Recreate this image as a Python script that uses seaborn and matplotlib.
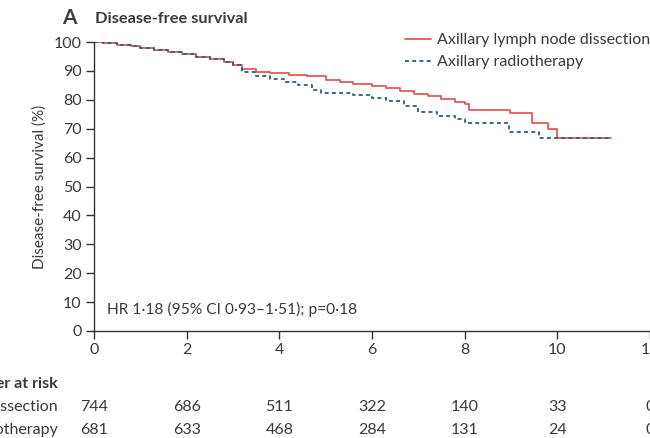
import matplotlib
matplotlib.use("Agg")
import matplotlib.pyplot as plt
import seaborn as sns
import pandas as pd
from matplotlib.lines import Line2D

# ---- data ----
dis_time = [0, 0.2, 0.5, 0.8, 1.0, 1.3, 1.6, 1.9, 2.2, 2.5, 2.8, 3.0, 3.2, 3.5, 3.8,
            4.2, 4.6, 5.0, 5.3, 5.6, 6.0, 6.3, 6.6, 6.9, 7.2, 7.5, 7.8, 8.0, 8.1,
            8.98, 9.46, 9.8, 10.0, 11.15]
dis_surv = [100, 99.6, 99.1, 98.6, 98.0, 97.3, 96.5, 95.7, 94.8, 94.0, 93.0, 92.0, 90.5,
            89.7, 89.2, 88.7, 88.2, 87.0, 86.0, 85.4, 84.8, 84.0, 83.0, 82.0, 81.2, 80.3,
            79.3, 78.5, 76.5, 75.4, 72.0, 69.9, 66.8, 66.8]

rad_time = [0, 0.2, 0.5, 0.8, 1.0, 1.3, 1.6, 1.9, 2.2, 2.5, 2.8, 3.0, 3.2, 3.5, 3.8,
            4.1, 4.4, 4.7, 4.9, 5.6, 6.0, 6.3, 6.7, 7.0, 7.4, 7.8, 8.0, 8.95, 9.6, 11.15]
rad_surv = [100, 99.6, 99.1, 98.6, 98.0, 97.3, 96.5, 95.7, 94.8, 94.0, 93.0, 92.0, 89.5,
            88.3, 87.2, 86.0, 85.0, 83.5, 82.3, 81.5, 80.5, 79.5, 78.0, 75.8, 74.5, 73.5,
            72.0, 68.9, 66.8, 66.8]

arm_labels = ["Axillary lymph node dissection", "Axillary radiotherapy"]
risk_rows = ["Dissection", "Radiotherapy"]
risk_times = [0, 2, 4, 6, 8, 10, 12]
risk_dis = [744, 686, 511, 322, 140, 33, 0]
risk_rad = [681, 633, 468, 284, 131, 24, 0]
x_ticks = [0, 2, 4, 6, 8, 10, 12]
y_ticks = [0, 10, 20, 30, 40, 50, 60, 70, 80, 90, 100]

# ---- style ----
sns.set_theme(style="ticks")
plt.rcParams["font.family"] = ["Lato", "DejaVu Sans"]
TXT = "#3a3a3a"
RED = "#e05a5a"
BLUE = "#2b5f80"
FS = 11.5

fig = plt.figure(figsize=(6.5, 4.38), dpi=100)
ax = fig.add_axes([94 / 650, (438 - 331) / 438, (650 - 94) / 650, (331 - 42) / 438])

df_d = pd.DataFrame({"time": dis_time, "surv": dis_surv})
df_r = pd.DataFrame({"time": rad_time, "surv": rad_surv})
sns.lineplot(data=df_d, x="time", y="surv", ax=ax, color=RED, lw=1.3,
             drawstyle="steps-post", estimator=None, sort=False)
sns.lineplot(data=df_r, x="time", y="surv", ax=ax, color=BLUE, lw=1.3,
             drawstyle="steps-post", estimator=None, sort=False,
             linestyle=(0, (2.2, 1.8)))

ax.set_xlim(0, 12)
ax.set_ylim(0, 100)
ax.set_xticks(x_ticks)
ax.set_yticks(y_ticks)
ax.set_xlabel("")
ax.set_ylabel("Disease-free survival (%)", fontsize=FS - 0.5, color=TXT, labelpad=5)
for s in ["top", "right"]:
    ax.spines[s].set_visible(False)
for s in ["left", "bottom"]:
    ax.spines[s].set_color("#333333")
    ax.spines[s].set_linewidth(1.0)
ax.tick_params(axis="both", direction="out", length=6, width=1.0, color="#333333",
               labelsize=FS, labelcolor=TXT, pad=3)

ax.text(0.28, 7.5, "HR 1·18 (95% CI 0·93–1·51); p=0·18", fontsize=FS - 0.3, color=TXT,
        va="center", ha="left")

# legend
handles = [Line2D([], [], color=RED, lw=1.3),
           Line2D([], [], color=BLUE, lw=1.3, linestyle=(0, (2.2, 1.8)))]
fig.legend(handles, arm_labels, loc="upper left", bbox_to_anchor=(405 / 650, 1 - 33 / 438),
           frameon=False, fontsize=FS, handlelength=1.6, handletextpad=0.4,
           labelspacing=0.5, labelcolor=TXT, borderaxespad=0, borderpad=0)

# title
fig.text(62 / 650, 1 - 18 / 438, "A", fontsize=15, fontweight="bold", color=TXT,
         va="center", ha="left")
fig.text(95 / 650, 1 - 19 / 438, "Disease-free survival", fontsize=11.8, fontweight="bold",
         color=TXT, va="center", ha="left")

# number at risk table
fig.text(58 / 650, 1 - 384 / 438, "Number at risk", fontsize=FS, fontweight="bold",
         color=TXT, va="center", ha="right")
row_y = [407, 430]
for lab, vals, yy in zip(risk_rows, [risk_dis, risk_rad], row_y):
    fig.text(58 / 650, 1 - yy / 438, lab, fontsize=FS, color=TXT, va="center", ha="right")
    for t, v in zip(risk_times, vals):
        ax.annotate(str(v), xy=(t, 0), xycoords=("data", "axes fraction"),
                    xytext=(0, -(yy - 331)), textcoords="offset pixels",
                    ha="center", va="center", fontsize=FS, color=TXT,
                    annotation_clip=False)

fig.savefig("out.png", dpi=100)
